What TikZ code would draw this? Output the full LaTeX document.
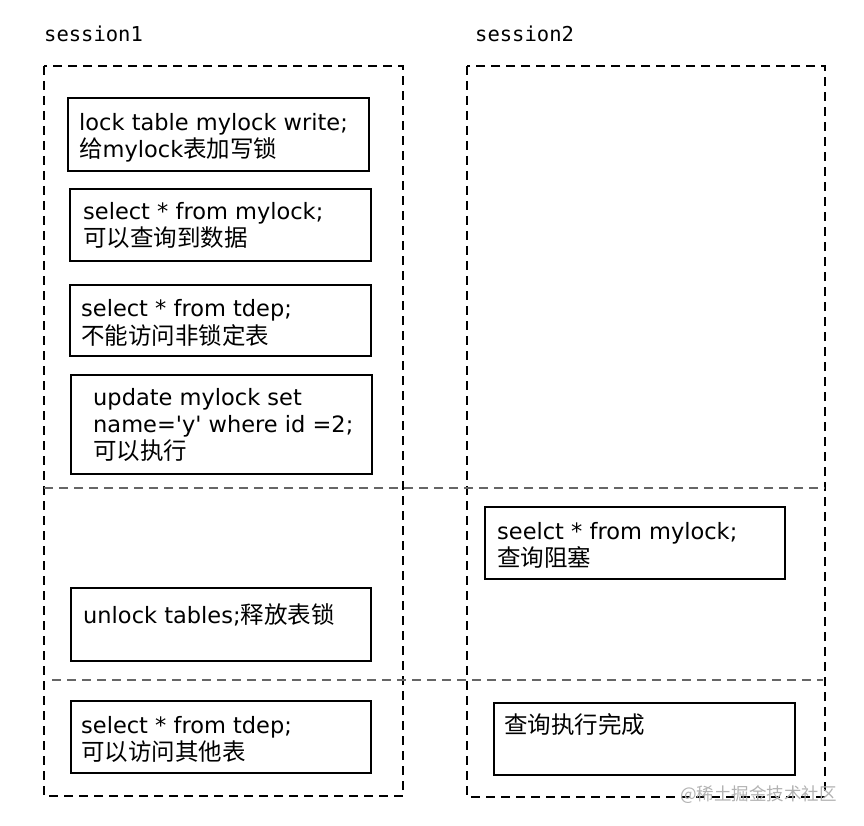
\documentclass[tikz,border=0pt]{standalone}
\usepackage{fontspec}
\setmainfont{DejaVu Sans}
\newfontfamily\latinfont{DejaVu Sans}
\newfontfamily\cjkfont{Noto Sans CJK SC}
\newfontfamily\monolabel{DejaVu Sans Mono}
\newcommand\zh[1]{{\cjkfont\fontsize{23.5}{27}\selectfont #1}}
\begin{document}
\begin{tikzpicture}[x=1pt,y=-1pt,
  solidbox/.style={draw=black, line width=1.6pt},
  sessbox/.style={draw=black, line width=1.6pt, dash pattern=on 9pt off 6pt},
  divider/.style={draw=black!60, line width=1.6pt, dash pattern=on 9pt off 6pt},
  txt/.style={anchor=base west, inner sep=0pt, font=\latinfont\fontsize{22.5}{27}\selectfont},
  sesslabel/.style={anchor=base west, inner sep=0pt, font=\monolabel\fontsize{20.5}{22}\selectfont},
  wm/.style={anchor=base west, inner sep=0pt, text=black!30, font=\cjkfont\fontsize{17.5}{20}\selectfont}]
\useasboundingbox (0,0) rectangle (864,826);
\fill[white] (0,0) rectangle (864,826);

% session labels
\node[sesslabel] (s1) at (44,42) {session1};
\node[sesslabel] (s2) at (475,42) {session2};

% session frames
\draw[sessbox] (44,66) rectangle (403,796);
\draw[sessbox] (467,66) rectangle (825,797);

% dividers
\coordinate (d1a) at (44,488);
\coordinate (d1b) at (825,488);
\coordinate (d2a) at (52,680);
\coordinate (d2b) at (823,680);
\draw[divider] (d1a) -- (d1b);
\draw[divider] (d2a) -- (d2b);

% session1 boxes
\draw[solidbox] (68,98) rectangle (369,171);
\node[txt] (t1a) at (79,131) {lock table mylock write;};
\node[txt] (t1b) at (79,158) {\zh{给}mylock\zh{表加写锁}};

\draw[solidbox] (70,189) rectangle (371,261);
\node[txt] (t2a) at (83,220) {select * from mylock;};
\node[txt] (t2b) at (83,247) {\zh{可以查询到数据}};

\draw[solidbox] (70,285) rectangle (371,356);
\node[txt] (t3a) at (81,316) {select * from tdep;};
\node[txt] (t3b) at (81,344) {\zh{不能访问非锁定表}};

\draw[solidbox] (71,375) rectangle (372,474);
\node[txt] (t4a) at (93,405) {update mylock set};
\node[txt] (t4b) at (93,432) {name='y' where id =2;};
\node[txt] (t4c) at (93,459) {\zh{可以执行}};

\draw[solidbox] (71,588) rectangle (371,661);
\node[txt] (t5a) at (83,623) {unlock tables;\zh{释放表锁}};

\draw[solidbox] (71,701) rectangle (371,773);
\node[txt] (t6a) at (81,733) {select * from tdep;};
\node[txt] (t6b) at (81,760) {\zh{可以访问其他表}};

% session2 boxes
\draw[solidbox] (485,507) rectangle (785,579);
\node[txt] (t7a) at (497,539) {seelct * from mylock;};
\node[txt] (t7b) at (497,566) {\zh{查询阻塞}};

\draw[solidbox] (494,703) rectangle (795,775);
\node[txt] (t8a) at (504,733) {\zh{查询执行完成}};

% watermark
\node[wm] (wmk) at (680,800) {@稀土掘金技术社区};
\end{tikzpicture}
\end{document}
